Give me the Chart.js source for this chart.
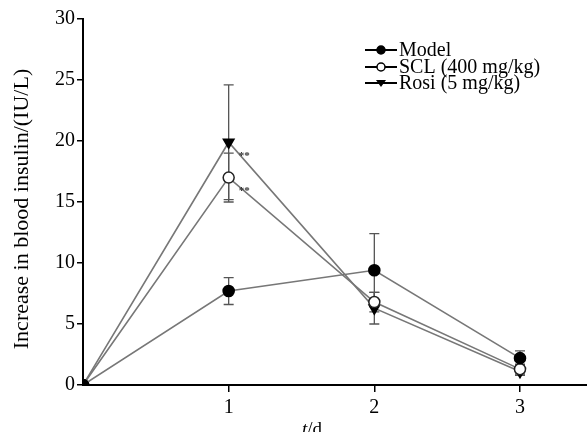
<!DOCTYPE html>
<html>
<head>
<meta charset="utf-8">
<script src="https://cdn.jsdelivr.net/npm/chart.js@4/dist/chart.umd.min.js"></script>
<style>
  html, body { margin: 0; padding: 0; background: #fff; }
  #wrap { width: 587px; height: 432px; }
</style>
</head>
<body>
<div id="wrap"><canvas id="insulinChart" width="587" height="432"></canvas></div>
<script>
// Data
const days = [0, 1, 2, 3];
const xTicks = [1, 2, 3];

const modelMean = [0, 7.7, 9.4, 2.2];
const modelErr  = [0, 1.1, 3.0, 0.6];
const sclMean   = [0, 17.0, 6.8, 1.3];
const sclErr    = [0, 2.0, 0.8, 0.4];
const rosiMean  = [0, 19.9, 6.3, 1.1];
const rosiErr   = [0, 4.7, 1.3, 0.3];

const seriesNames = ['Model', 'SCL (400 mg/kg)', 'Rosi (5 mg/kg)'];
const yTitle = 'Increase in blood insulin/(IU/L)';

// significance marks at day 1
const markText = ['**', '**'];
const markValues = [rosiMean[1], sclMean[1]];

const serif = '"Liberation Serif", "DejaVu Serif", serif';

function toPoints(vals) {
    return days.map((d, i) => ({ x: d, y: vals[i] }));
}

const errors = [modelErr, sclErr, rosiErr];

// error bars drawn with the chart's own scales
const errorBarPlugin = {
    id: 'errorBars',
    beforeDatasetsDraw(chart) {
        const ctx = chart.ctx;
        const xs = chart.scales.x;
        const ys = chart.scales.y;
        ctx.save();
        ctx.strokeStyle = '#555';
        ctx.lineWidth = 1.3;
        chart.data.datasets.forEach((ds, di) => {
            ds.data.forEach((p, i) => {
                const e = errors[di][i];
                if (!e) return;
                const px = xs.getPixelForValue(p.x);
                const top = ys.getPixelForValue(p.y + e);
                const bot = ys.getPixelForValue(p.y - e);
                ctx.beginPath();
                ctx.moveTo(px, top);
                ctx.lineTo(px, bot);
                ctx.moveTo(px - 5, top);
                ctx.lineTo(px + 5, top);
                ctx.moveTo(px - 5, bot);
                ctx.lineTo(px + 5, bot);
                ctx.stroke();
            });
        });
        ctx.restore();
    }
};

// legend with line-through markers, significance marks and axis titles
const extrasPlugin = {
    id: 'extras',
    afterDraw(chart) {
        const ctx = chart.ctx;
        const xs = chart.scales.x;
        const ys = chart.scales.y;
        ctx.save();

        // significance marks
        ctx.fillStyle = '#333';
        ctx.font = 'bold 11px ' + serif;
        ctx.textAlign = 'left';
        ctx.textBaseline = 'middle';
        markText.forEach((t, k) => {
            ctx.fillText(t, xs.getPixelForValue(1) + 10, ys.getPixelForValue(markValues[k]) + 14);
        });

        // legend
        const rows = [50, 67, 83];
        chart.data.datasets.forEach((ds, i) => {
            const y = rows[i];
            ctx.strokeStyle = '#000';
            ctx.lineWidth = 2;
            ctx.beginPath();
            ctx.moveTo(365, y);
            ctx.lineTo(397, y);
            ctx.stroke();
            ctx.fillStyle = ds.pointBackgroundColor;
            ctx.lineWidth = 1.5;
            if (ds.pointStyle === 'triangle') {
                ctx.fillStyle = '#000';
                ctx.beginPath();
                ctx.moveTo(376, y - 3);
                ctx.lineTo(386, y - 3);
                ctx.lineTo(381, y + 4);
                ctx.closePath();
                ctx.fill();
            } else {
                ctx.beginPath();
                ctx.arc(381, y, 4, 0, Math.PI * 2);
                ctx.fill();
                ctx.stroke();
            }
            ctx.fillStyle = '#000';
            ctx.font = '20px ' + serif;
            ctx.textAlign = 'left';
            ctx.textBaseline = 'middle';
            ctx.fillText(seriesNames[i], 399, y + 1);
        });

        // y axis title
        ctx.save();
        ctx.translate(22, 209);
        ctx.rotate(-Math.PI / 2);
        ctx.font = '22px ' + serif;
        ctx.textAlign = 'center';
        ctx.textBaseline = 'middle';
        ctx.fillStyle = '#000';
        ctx.fillText(yTitle, 0, 0);
        ctx.restore();

        // x axis title: italic t + /d
        ctx.fillStyle = '#000';
        ctx.textAlign = 'left';
        ctx.textBaseline = 'alphabetic';
        ctx.font = 'italic 19px ' + serif;
        const tW = ctx.measureText('t').width;
        ctx.font = '19px ' + serif;
        const dW = ctx.measureText('/d').width;
        const startX = 312 - (tW + dW) / 2;
        ctx.font = 'italic 19px ' + serif;
        ctx.fillText('t', startX, 435);
        ctx.font = '19px ' + serif;
        ctx.fillText('/d', startX + tW, 435);

        ctx.restore();
    }
};

const lineGray = '#777';

new Chart(document.getElementById('insulinChart'), {
    type: 'line',
    data: {
        datasets: [
            {
                label: seriesNames[0],
                data: toPoints(modelMean),
                borderColor: lineGray,
                borderWidth: 1.6,
                pointStyle: 'circle',
                pointRadius: 5.5,
                pointBackgroundColor: '#000',
                pointBorderColor: '#000',
                tension: 0
            },
            {
                label: seriesNames[1],
                data: toPoints(sclMean),
                borderColor: lineGray,
                borderWidth: 1.6,
                pointStyle: 'circle',
                pointRadius: 5.5,
                pointBorderWidth: 1.5,
                pointBackgroundColor: '#fff',
                pointBorderColor: '#222',
                tension: 0
            },
            {
                label: seriesNames[2],
                data: toPoints(rosiMean),
                borderColor: lineGray,
                borderWidth: 1.6,
                pointStyle: 'triangle',
                pointRotation: 180,
                pointRadius: 6,
                pointBackgroundColor: '#000',
                pointBorderColor: '#000',
                tension: 0
            }
        ]
    },
    options: {
        responsive: false,
        animation: false,
        events: [],
        layout: { autoPadding: false, padding: { top: 19, right: 0, left: 0, bottom: 0 } },
        plugins: {
            legend: { display: false },
            tooltip: { enabled: false }
        },
        scales: {
            x: {
                type: 'linear',
                min: 0,
                max: 3.46,
                afterBuildTicks(scale) {
                    scale.ticks = xTicks.map(v => ({ value: v }));
                },
                afterFit(scale) {
                    scale.height = 47;
                    scale.paddingLeft = 0;
                    scale.paddingRight = 0;
                },
                grid: { display: true, drawOnChartArea: false, drawTicks: true, tickLength: 7, color: '#000', lineWidth: 1.5 },
                border: { display: true, color: '#000', width: 2 },
                ticks: {
                    color: '#000',
                    padding: 4,
                    font: { family: serif, size: 20 }
                }
            },
            y: {
                min: 0,
                max: 30,
                afterFit(scale) { scale.width = 83; },
                grid: { display: true, drawOnChartArea: false, drawTicks: true, tickLength: 6, color: '#000', lineWidth: 1.5 },
                border: { display: true, color: '#000', width: 2 },
                ticks: {
                    stepSize: 5,
                    color: '#000',
                    padding: 2,
                    font: { family: serif, size: 20 }
                }
            }
        }
    },
    plugins: [errorBarPlugin, extrasPlugin]
});
</script>
</body>
</html>
